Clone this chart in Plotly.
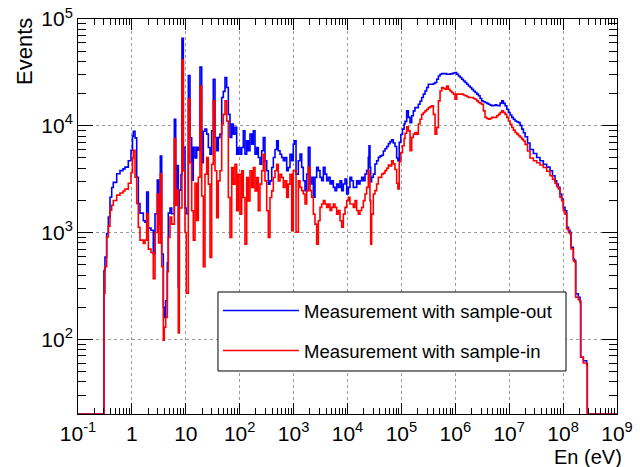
import numpy as np
import plotly.graph_objects as go

# ---- data (bin lower edges as log10(En/eV)) ----
log10_En = [
    -1.000, -0.518, -0.499, -0.468, -0.437, -0.406, -0.375, -0.345, -0.282, -0.221,
    -0.165, -0.128, -0.067, -0.017, 0.011, 0.026, 0.058, 0.089, 0.119, 0.150,
    0.212, 0.243, 0.274, 0.305, 0.354, 0.397, 0.429, 0.471, 0.494, 0.527,
    0.553, 0.583, 0.601, 0.627, 0.657, 0.675, 0.707, 0.738, 0.787, 0.813,
    0.837, 0.861, 0.880, 0.911, 0.929, 0.954, 0.985, 1.009, 1.047, 1.078,
    1.109, 1.139, 1.171, 1.202, 1.232, 1.263, 1.295, 1.325, 1.356, 1.388,
    1.418, 1.449, 1.480, 1.510, 1.542, 1.573, 1.603, 1.634, 1.666, 1.696,
    1.727, 1.759, 1.789, 1.820, 1.852, 1.882, 1.913, 1.944, 1.974, 2.006,
    2.037, 2.067, 2.098, 2.130, 2.160, 2.191, 2.223, 2.253, 2.284, 2.315,
    2.345, 2.377, 2.408, 2.438, 2.469, 2.501, 2.531, 2.562, 2.594, 2.624,
    2.655, 2.686, 2.716, 2.748, 2.779, 2.809, 2.840, 2.872, 2.902, 2.933,
    2.965, 2.994, 3.014, 3.045, 3.088, 3.119, 3.150, 3.180, 3.212, 3.243,
    3.273, 3.304, 3.335, 3.366, 3.397, 3.428, 3.459, 3.490, 3.521, 3.552,
    3.583, 3.614, 3.645, 3.676, 3.707, 3.737, 3.768, 3.799, 3.830, 3.861,
    3.892, 3.923, 3.954, 3.985, 4.016, 4.046, 4.077, 4.108, 4.139, 4.170,
    4.201, 4.232, 4.263, 4.294, 4.325, 4.355, 4.386, 4.399, 4.417, 4.430,
    4.448, 4.479, 4.510, 4.541, 4.572, 4.603, 4.634, 4.665, 4.696, 4.727,
    4.758, 4.789, 4.819, 4.850, 4.881, 4.912, 4.935, 4.960, 4.990, 5.020,
    5.050, 5.067, 5.098, 5.129, 5.160, 5.191, 5.221, 5.252, 5.283, 5.314,
    5.345, 5.376, 5.407, 5.438, 5.469, 5.500, 5.531, 5.562, 5.593, 5.624,
    5.655, 5.686, 5.717, 5.748, 5.779, 5.810, 5.840, 5.871, 5.902, 5.933,
    5.964, 5.995, 6.026, 6.057, 6.088, 6.119, 6.150, 6.181, 6.212, 6.243,
    6.274, 6.305, 6.336, 6.367, 6.398, 6.429, 6.460, 6.490, 6.521, 6.552,
    6.583, 6.614, 6.645, 6.676, 6.707, 6.738, 6.769, 6.800, 6.831, 6.862,
    6.893, 6.924, 6.955, 6.986, 7.017, 7.048, 7.078, 7.109, 7.140, 7.171,
    7.202, 7.233, 7.264, 7.295, 7.340, 7.386, 7.448, 7.510, 7.571, 7.633,
    7.695, 7.757, 7.803, 7.850, 7.880, 7.911, 7.942, 7.974, 8.004, 8.035,
    8.067, 8.100, 8.128, 8.147, 8.190, 8.210, 8.233, 8.282, 8.314, 8.326,
    8.375, 8.437, 8.449, 9.000,
]

events_sample_out = [
    0, 440, 590, 980, 1400, 2140, 2640, 2950, 3550, 3800,
    3950, 4100, 4700, 5900, 8000, 8900, 7700, 3300, 1870, 1520,
    1290, 1250, 2400, 1100, 1050, 630, 1500, 3100, 1200, 5200,
    630, 200, 160, 230, 520, 1520, 1700, 1500, 11500, 2500,
    4250, 310, 2500, 3500, 66000, 6300, 1700, 1500, 29500, 7700,
    3100, 6300, 5000, 6300, 5900, 35400, 4500, 8900, 9300, 8350,
    6260, 5420, 8970, 27300, 7770, 5830, 7770, 8350, 18400, 21000,
    28300, 22800, 12800, 7770, 10400, 8350, 9700, 5420, 6260, 5420,
    6260, 8970, 5420, 7230, 5830, 8350, 6730, 8970, 5420, 6260,
    5050, 4370, 5830, 7770, 4700, 3790, 2840, 3050, 4070, 5050,
    6000, 7230, 5830, 5420, 5050, 4700, 5050, 3790, 4070, 5420,
    4700, 6730, 7240, 3530, 4710, 5440, 4080, 3060, 2470, 3530,
    6280, 2850, 3290, 2140, 3290, 4080, 3800, 3290, 3060, 4080,
    3530, 3060, 3290, 2850, 3060, 2650, 2470, 2850, 2650, 3060,
    2470, 2850, 3170, 2300, 2650, 3290, 3060, 2650, 2650, 3060,
    2850, 3060, 3290, 3060, 3530, 3800, 5060, 6500, 4080, 3000,
    3300, 3530, 4380, 4710, 5060, 5200, 5300, 5800, 6100, 6400,
    6800, 7100, 7400, 6900, 6400, 5000, 4700, 7000, 8300, 9300,
    10400, 11000, 13800, 12000, 10700, 12400, 13800, 14800, 14800, 15900,
    17000, 18400, 19800, 21200, 22800, 24500, 24500, 24500, 24900, 25400,
    27300, 29300, 30400, 30800, 30800, 30800, 30400, 30400, 30600, 30800,
    31200, 31500, 30400, 29300, 28300, 27300, 26300, 25400, 24500, 23600,
    22800, 22000, 21200, 20500, 19800, 19100, 18000, 17100, 16800, 16500,
    16200, 15900, 15600, 15400, 15500, 15700, 15500, 15400, 16300, 17100,
    16200, 15400, 14300, 13300, 12600, 12000, 11500, 11100, 10900, 10700,
    10100, 9300, 8600, 7900, 6900, 6000, 5500, 5050, 4700, 4370,
    4100, 3790, 3400, 3060, 2850, 2650, 2300, 2060, 1720, 1600,
    1120, 1050, 1005, 728, 566, 546, 267, 248, 231, 68,
    63, 59, 0, 0,
]

events_sample_in = [
    0, 270, 480, 910, 1150, 1620, 1800, 2000, 2240, 2350,
    2450, 2550, 2900, 3630, 5000, 5900, 3300, 1870, 1120, 850,
    790, 850, 1500, 700, 650, 370, 1000, 2300, 800, 3550,
    480, 98, 130, 160, 430, 900, 1400, 1200, 7600, 1800,
    2500, 115, 1700, 1700, 41500, 3800, 1000, 270, 17800, 4500,
    1600, 850, 2900, 1300, 3300, 23600, 2200, 480, 3520, 5050,
    2840, 585, 4370, 17100, 3790, 1380, 3050, 3790, 10400, 12800,
    17100, 11100, 2130, 900, 4070, 2840, 4370, 1600, 3520, 1490,
    3790, 2130, 780, 3280, 1980, 3790, 2640, 4070, 2460, 3280,
    1600, 2840, 3790, 5420, 3050, 1600, 900, 2130, 2460, 3280,
    3790, 4370, 3050, 3520, 3280, 2640, 3050, 2130, 2840, 3520,
    1040, 3790, 3800, 1010, 3060, 2650, 2470, 2300, 1850, 2470,
    4080, 2470, 2140, 1490, 1200, 780, 1290, 1720, 1850, 1990,
    1850, 1720, 1850, 1610, 1720, 1850, 1720, 1490, 1610, 1290,
    1120, 1490, 1720, 1990, 2140, 1850, 1850, 1720, 1990, 1610,
    1490, 1610, 1720, 1990, 2300, 2650, 3800, 3530, 1990, 780,
    1490, 2300, 2470, 2850, 3290, 3290, 3530, 3600, 3800, 4000,
    4300, 4200, 4700, 4400, 3900, 2900, 2560, 4600, 5600, 6500,
    7600, 8500, 9800, 8970, 5830, 7780, 8350, 8660, 8350, 10400,
    11500, 12800, 13300, 13800, 14300, 14800, 15100, 15400, 12800, 8350,
    9650, 17100, 21200, 22800, 22400, 22000, 23600, 22000, 21200, 20500,
    19800, 17700, 19800, 19800, 19800, 19800, 19400, 19100, 18800, 18400,
    18400, 18400, 18000, 17700, 17100, 16500, 16200, 15900, 13800, 12000,
    11700, 11500, 11700, 12000, 12000, 12000, 12400, 12800, 13300, 13800,
    13300, 12800, 12000, 11100, 10300, 9650, 9100, 8660, 8350, 8070,
    7800, 7500, 7200, 6700, 5800, 5000, 4700, 4500, 4300, 4070,
    3750, 3400, 3150, 2900, 2700, 2560, 2140, 1990, 1600, 1490,
    1080, 1000, 970, 702, 546, 530, 248, 235, 222, 68,
    60, 57, 0, 0,
]

series_names = ["Measurement with sample-out", "Measurement with sample-in"]
series_colors = ["#0000ff", "#ff0000"]

x_tick_exponents = [-1, 0, 1, 2, 3, 4, 5, 6, 7, 8, 9]
x_tick_labels = ["10<sup>-1</sup>", "1", "10", "10<sup>2</sup>", "10<sup>3</sup>",
                 "10<sup>4</sup>", "10<sup>5</sup>", "10<sup>6</sup>", "10<sup>7</sup>",
                 "10<sup>8</sup>", "10<sup>9</sup>"]
y_tick_exponents = [2, 3, 4, 5]
y_tick_labels = ["10<sup>2</sup>", "10<sup>3</sup>", "10<sup>4</sup>", "10<sup>5</sup>"]

Y_MIN = 20      # histogram minimum shown on the frame
X_RANGE = (-1, 9)
Y_RANGE = (np.log10(Y_MIN), 5)

FONT = "Liberation Sans, Arial, Helvetica, sans-serif"

energy = 10.0 ** np.array(log10_En)
x_tickvals = [10.0 ** e for e in x_tick_exponents]
y_tickvals = [10.0 ** e for e in y_tick_exponents]
x_minor = [m * 10.0 ** e for e in range(X_RANGE[0], X_RANGE[1]) for m in range(2, 10)]
y_minor = [m * 10.0 ** e for e in range(1, 5) for m in range(2, 10) if m * 10.0 ** e >= Y_MIN]

fig = go.Figure()
for i, (vals, name, color) in enumerate(zip([events_sample_out, events_sample_in],
                                            series_names, series_colors)):
    v = np.array(vals, dtype=float)
    v = np.where(v > 0, v, Y_MIN)  # ROOT draws empty bins on the frame floor
    fig.add_trace(go.Scatter(
        x=energy, y=v, mode="lines", name=name,
        line=dict(color=color, width=1.6, shape="hv"),
        legendgroup=f"g{i}",
    ))

axis_common = dict(
    type="log", showline=True, linecolor="black", linewidth=1, mirror="ticks",
    ticks="inside", tickcolor="black", tickwidth=1, automargin=False,
    showgrid=True, gridcolor="#9a9a9a", griddash="dot", gridwidth=1,
    zeroline=False, tickfont=dict(family=FONT, size=21, color="black"),
)

fig.update_xaxes(
    **axis_common, range=list(X_RANGE), tickmode="array",
    tickvals=x_tickvals, ticktext=x_tick_labels, ticklen=11, ticklabelstandoff=1,
    minor=dict(tickmode="array", tickvals=x_minor, ticks="inside", ticklen=6,
               tickcolor="black", showgrid=False),
)
fig.update_yaxes(
    **axis_common, range=list(Y_RANGE), tickmode="array",
    tickvals=y_tickvals, ticktext=y_tick_labels, ticklen=15,
    minor=dict(tickmode="array", tickvals=y_minor, ticks="inside", ticklen=8,
               tickcolor="black", showgrid=False),
)

# legend frame (ROOT TLegend box) drawn as a paper-space rectangle behind the legend
LEGEND_BOX = dict(x0=0.2597, x1=0.9054, y0=0.1089, y1=0.3089)

fig.update_layout(
    width=644, height=467,
    margin=dict(l=78, r=27, t=19, b=53, autoexpand=False),
    paper_bgcolor="white", plot_bgcolor="white",
    font=dict(family=FONT, color="black"),
    showlegend=True,
    legend=dict(
        x=LEGEND_BOX["x0"], y=LEGEND_BOX["y1"], xanchor="left", yanchor="top",
        bgcolor="rgba(0,0,0,0)", borderwidth=0,
        font=dict(family=FONT, size=18.5, color="black"),
        tracegroupgap=13, itemwidth=76,
    ),
    shapes=[
        dict(type="rect", xref="paper", yref="paper", layer="above",
             fillcolor="white", line=dict(color="black", width=1), **LEGEND_BOX),
    ],
    annotations=[
        dict(text="Events", xref="paper", yref="paper", x=0, y=0.9165,
             xshift=-53, xanchor="center", yanchor="middle", textangle=-90,
             showarrow=False, font=dict(family=FONT, size=22, color="black")),
        dict(text="En (eV)", xref="paper", yref="paper", x=1, y=0,
             xanchor="right", yanchor="top", yshift=-31, xshift=6, borderpad=0,
             showarrow=False, font=dict(family=FONT, size=20, color="black")),
    ],
)

fig.write_html("out.html", config={"displayModeBar": False},
               post_script="document.body.style.margin='0';document.body.style.padding='0';")
